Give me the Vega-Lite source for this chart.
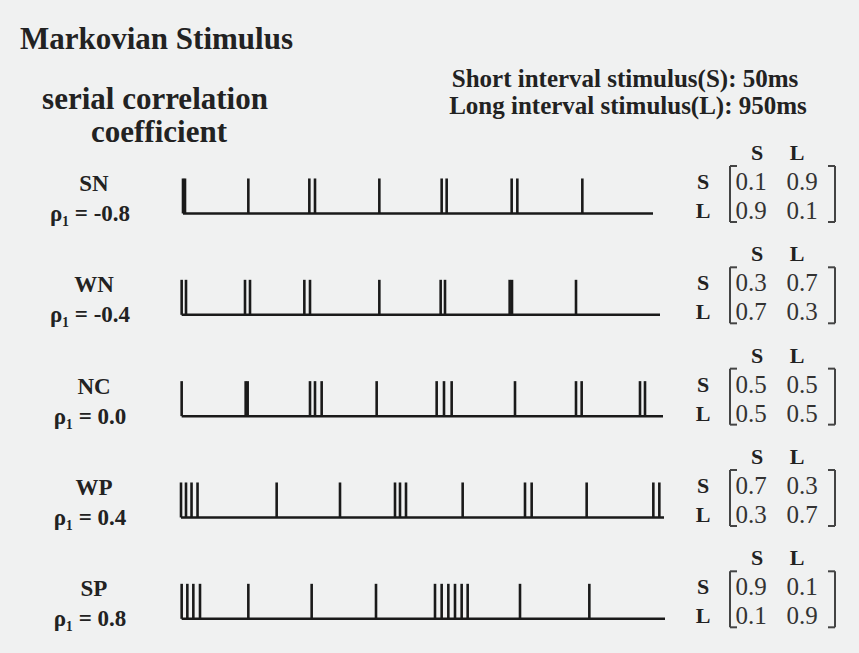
{
  "$schema": "https://vega.github.io/schema/vega-lite/v6.json",
  "autosize": {"type": "none"},
  "width": 859,
  "height": 608,
  "padding": {"left": 0, "right": 0, "top": 0, "bottom": 45},
  "background": "#f0f1f1",
  "config": {"view": {"stroke": null}, "text": {"font": "Liberation Serif", "color": "#222222"}},
  "datasets": {
    "spikes": [
      {"cond": "SN", "t": 0}, {"cond": "SN", "t": 30}, {"cond": "SN", "t": 980}, {"cond": "SN", "t": 1895}, {"cond": "SN", "t": 1980}, {"cond": "SN", "t": 2945}, {"cond": "SN", "t": 3880}, {"cond": "SN", "t": 3955}, {"cond": "SN", "t": 4930}, {"cond": "SN", "t": 5015}, {"cond": "SN", "t": 5990},
      {"cond": "WN", "t": -20}, {"cond": "WN", "t": 45}, {"cond": "WN", "t": 930}, {"cond": "WN", "t": 1005}, {"cond": "WN", "t": 1820}, {"cond": "WN", "t": 1905}, {"cond": "WN", "t": 2945}, {"cond": "WN", "t": 3865}, {"cond": "WN", "t": 3930}, {"cond": "WN", "t": 4900}, {"cond": "WN", "t": 4935}, {"cond": "WN", "t": 5895},
      {"cond": "NC", "t": -20}, {"cond": "NC", "t": 940}, {"cond": "NC", "t": 970}, {"cond": "NC", "t": 1905}, {"cond": "NC", "t": 1980}, {"cond": "NC", "t": 2080}, {"cond": "NC", "t": 2905}, {"cond": "NC", "t": 3805}, {"cond": "NC", "t": 3915}, {"cond": "NC", "t": 4030}, {"cond": "NC", "t": 4980}, {"cond": "NC", "t": 5895}, {"cond": "NC", "t": 5980}, {"cond": "NC", "t": 6855}, {"cond": "NC", "t": 6930},
      {"cond": "WP", "t": -30}, {"cond": "WP", "t": 45}, {"cond": "WP", "t": 128}, {"cond": "WP", "t": 218}, {"cond": "WP", "t": 1405}, {"cond": "WP", "t": 2355}, {"cond": "WP", "t": 3180}, {"cond": "WP", "t": 3255}, {"cond": "WP", "t": 3345}, {"cond": "WP", "t": 4195}, {"cond": "WP", "t": 5130}, {"cond": "WP", "t": 5230}, {"cond": "WP", "t": 6055}, {"cond": "WP", "t": 7055}, {"cond": "WP", "t": 7145},
      {"cond": "SP", "t": -20}, {"cond": "SP", "t": 65}, {"cond": "SP", "t": 155}, {"cond": "SP", "t": 255}, {"cond": "SP", "t": 980}, {"cond": "SP", "t": 1930}, {"cond": "SP", "t": 2895}, {"cond": "SP", "t": 3780}, {"cond": "SP", "t": 3880}, {"cond": "SP", "t": 3980}, {"cond": "SP", "t": 4080}, {"cond": "SP", "t": 4180}, {"cond": "SP", "t": 4270}, {"cond": "SP", "t": 5055}, {"cond": "SP", "t": 6095}
    ],
    "trains": [
      {"cond": "SN", "rho": "ρ₁ = -0.8", "start": 0, "end": 7050},
      {"cond": "WN", "rho": "ρ₁ = -0.4", "start": -20, "end": 7155},
      {"cond": "NC", "rho": "ρ₁ = 0.0", "start": -20, "end": 7200},
      {"cond": "WP", "rho": "ρ₁ = 0.4", "start": -30, "end": 7215},
      {"cond": "SP", "rho": "ρ₁ = 0.8", "start": -20, "end": 7230}
    ],
    "matrix": [
      {"cond": "SN", "from": "S", "to": "S", "p": 0.1}, {"cond": "SN", "from": "S", "to": "L", "p": 0.9}, {"cond": "SN", "from": "L", "to": "S", "p": 0.9}, {"cond": "SN", "from": "L", "to": "L", "p": 0.1},
      {"cond": "WN", "from": "S", "to": "S", "p": 0.3}, {"cond": "WN", "from": "S", "to": "L", "p": 0.7}, {"cond": "WN", "from": "L", "to": "S", "p": 0.7}, {"cond": "WN", "from": "L", "to": "L", "p": 0.3},
      {"cond": "NC", "from": "S", "to": "S", "p": 0.5}, {"cond": "NC", "from": "S", "to": "L", "p": 0.5}, {"cond": "NC", "from": "L", "to": "S", "p": 0.5}, {"cond": "NC", "from": "L", "to": "L", "p": 0.5},
      {"cond": "WP", "from": "S", "to": "S", "p": 0.7}, {"cond": "WP", "from": "S", "to": "L", "p": 0.3}, {"cond": "WP", "from": "L", "to": "S", "p": 0.3}, {"cond": "WP", "from": "L", "to": "L", "p": 0.7},
      {"cond": "SP", "from": "S", "to": "S", "p": 0.9}, {"cond": "SP", "from": "S", "to": "L", "p": 0.1}, {"cond": "SP", "from": "L", "to": "S", "p": 0.1}, {"cond": "SP", "from": "L", "to": "L", "p": 0.9}
    ]
  },
  "layer": [
    {
      "data": {"name": "trains"},
      "mark": {"type": "rule", "strokeWidth": 2.5, "color": "#1a1a1a", "yOffset": 17.5},
      "encoding": {
        "x": {"field": "start", "type": "quantitative", "scale": {"domain": [-2745, 10140], "nice": false, "zero": false}, "axis": null},
        "x2": {"field": "end"},
        "y": {"field": "cond", "type": "nominal", "scale": {"type": "point", "domain": ["SN", "WN", "NC", "WP", "SP"], "padding": 1, "align": 0.967}, "axis": null}
      }
    },
    {
      "data": {"name": "spikes"},
      "mark": {"type": "rule", "strokeWidth": 2.6, "color": "#1a1a1a", "yOffset": -17.5, "y2Offset": 17.5},
      "encoding": {
        "x": {"field": "t", "type": "quantitative"},
        "y": {"field": "cond", "type": "nominal"},
        "y2": {"field": "cond"}
      }
    },
    {
      "data": {"name": "trains"},
      "mark": {"type": "text", "font": "Liberation Serif", "fontSize": 23, "fontWeight": "bold", "dy": -12},
      "encoding": {"x": {"datum": -1335, "type": "quantitative"}, "y": {"field": "cond", "type": "nominal"}, "text": {"field": "cond"}}
    },
    {
      "data": {"name": "trains"},
      "mark": {"type": "text", "font": "Liberation Serif", "fontSize": 23, "fontWeight": "bold", "dy": 18},
      "encoding": {"x": {"datum": -1395, "type": "quantitative"}, "y": {"field": "cond", "type": "nominal"}, "text": {"field": "rho"}}
    },
    {
      "data": {"name": "trains"},
      "mark": {"type": "text", "font": "Liberation Serif", "fontSize": 22, "fontWeight": "bold", "dy": -43},
      "encoding": {"x": {"datum": 8610, "type": "quantitative"}, "y": {"field": "cond", "type": "nominal"}, "text": {"value": "S"}}
    },
    {
      "data": {"name": "trains"},
      "mark": {"type": "text", "font": "Liberation Serif", "fontSize": 22, "fontWeight": "bold", "dy": -43},
      "encoding": {"x": {"datum": 9210, "type": "quantitative"}, "y": {"field": "cond", "type": "nominal"}, "text": {"value": "L"}}
    },
    {
      "data": {"name": "trains"},
      "mark": {"type": "text", "font": "Liberation Serif", "fontSize": 22, "fontWeight": "bold", "dy": -14},
      "encoding": {"x": {"datum": 7800, "type": "quantitative"}, "y": {"field": "cond", "type": "nominal"}, "text": {"value": "S"}}
    },
    {
      "data": {"name": "trains"},
      "mark": {"type": "text", "font": "Liberation Serif", "fontSize": 22, "fontWeight": "bold", "dy": 15},
      "encoding": {"x": {"datum": 7800, "type": "quantitative"}, "y": {"field": "cond", "type": "nominal"}, "text": {"value": "L"}}
    },
    {
      "data": {"name": "matrix"},
      "transform": [{"filter": "datum.from == 'S' && datum.to == 'S'"}],
      "mark": {"type": "text", "font": "Liberation Serif", "fontSize": 25, "color": "#333333", "dy": -14},
      "encoding": {"x": {"datum": 8520, "type": "quantitative"}, "y": {"field": "cond", "type": "nominal"}, "text": {"field": "p", "format": ".1f"}}
    },
    {
      "data": {"name": "matrix"},
      "transform": [{"filter": "datum.from == 'S' && datum.to == 'L'"}],
      "mark": {"type": "text", "font": "Liberation Serif", "fontSize": 25, "color": "#333333", "dy": -14},
      "encoding": {"x": {"datum": 9285, "type": "quantitative"}, "y": {"field": "cond", "type": "nominal"}, "text": {"field": "p", "format": ".1f"}}
    },
    {
      "data": {"name": "matrix"},
      "transform": [{"filter": "datum.from == 'L' && datum.to == 'S'"}],
      "mark": {"type": "text", "font": "Liberation Serif", "fontSize": 25, "color": "#333333", "dy": 15},
      "encoding": {"x": {"datum": 8520, "type": "quantitative"}, "y": {"field": "cond", "type": "nominal"}, "text": {"field": "p", "format": ".1f"}}
    },
    {
      "data": {"name": "matrix"},
      "transform": [{"filter": "datum.from == 'L' && datum.to == 'L'"}],
      "mark": {"type": "text", "font": "Liberation Serif", "fontSize": 25, "color": "#333333", "dy": 15},
      "encoding": {"x": {"datum": 9285, "type": "quantitative"}, "y": {"field": "cond", "type": "nominal"}, "text": {"field": "p", "format": ".1f"}}
    },
    {
      "data": {"name": "trains"},
      "mark": {"type": "rule", "strokeWidth": 2, "color": "#444444", "yOffset": -30, "y2Offset": 26},
      "encoding": {"x": {"datum": 8205, "type": "quantitative"}, "y": {"field": "cond", "type": "nominal"}, "y2": {"field": "cond"}}
    },
    {
      "data": {"name": "trains"},
      "mark": {"type": "rule", "strokeWidth": 2, "color": "#444444", "yOffset": -30, "y2Offset": 26},
      "encoding": {"x": {"datum": 9780, "type": "quantitative"}, "y": {"field": "cond", "type": "nominal"}, "y2": {"field": "cond"}}
    },
    {
      "data": {"name": "trains"},
      "mark": {"type": "rule", "strokeWidth": 2, "color": "#444444", "yOffset": -30},
      "encoding": {"x": {"datum": 8205, "type": "quantitative"}, "x2": {"datum": 8310}, "y": {"field": "cond", "type": "nominal"}}
    },
    {
      "data": {"name": "trains"},
      "mark": {"type": "rule", "strokeWidth": 2, "color": "#444444", "yOffset": 26},
      "encoding": {"x": {"datum": 8205, "type": "quantitative"}, "x2": {"datum": 8310}, "y": {"field": "cond", "type": "nominal"}}
    },
    {
      "data": {"name": "trains"},
      "mark": {"type": "rule", "strokeWidth": 2, "color": "#444444", "yOffset": -30},
      "encoding": {"x": {"datum": 9675, "type": "quantitative"}, "x2": {"datum": 9780}, "y": {"field": "cond", "type": "nominal"}}
    },
    {
      "data": {"name": "trains"},
      "mark": {"type": "rule", "strokeWidth": 2, "color": "#444444", "yOffset": 26},
      "encoding": {"x": {"datum": 9675, "type": "quantitative"}, "x2": {"datum": 9780}, "y": {"field": "cond", "type": "nominal"}}
    },
    {
      "data": {"values": [{"label": "Markovian Stimulus"}]},
      "mark": {"type": "text", "font": "Liberation Serif", "fontSize": 31, "fontWeight": "bold", "align": "left", "dy": -156},
      "encoding": {"x": {"datum": -2445, "type": "quantitative"}, "y": {"datum": "SN", "type": "nominal"}, "text": {"field": "label"}}
    },
    {
      "data": {"values": [{"label": "serial correlation"}]},
      "mark": {"type": "text", "font": "Liberation Serif", "fontSize": 31, "fontWeight": "bold", "dy": -96},
      "encoding": {"x": {"datum": -420, "type": "quantitative"}, "y": {"datum": "SN", "type": "nominal"}, "text": {"field": "label"}}
    },
    {
      "data": {"values": [{"label": "coefficient"}]},
      "mark": {"type": "text", "font": "Liberation Serif", "fontSize": 31, "fontWeight": "bold", "dy": -63},
      "encoding": {"x": {"datum": -360, "type": "quantitative"}, "y": {"datum": "SN", "type": "nominal"}, "text": {"field": "label"}}
    },
    {
      "data": {"values": [{"label": "Short interval stimulus(S): 50ms"}]},
      "mark": {"type": "text", "font": "Liberation Serif", "fontSize": 25, "fontWeight": "bold", "dy": -117},
      "encoding": {"x": {"datum": 6630, "type": "quantitative"}, "y": {"datum": "SN", "type": "nominal"}, "text": {"field": "label"}}
    },
    {
      "data": {"values": [{"label": "Long interval stimulus(L): 950ms"}]},
      "mark": {"type": "text", "font": "Liberation Serif", "fontSize": 25, "fontWeight": "bold", "dy": -90},
      "encoding": {"x": {"datum": 6675, "type": "quantitative"}, "y": {"datum": "SN", "type": "nominal"}, "text": {"field": "label"}}
    }
  ]
}
